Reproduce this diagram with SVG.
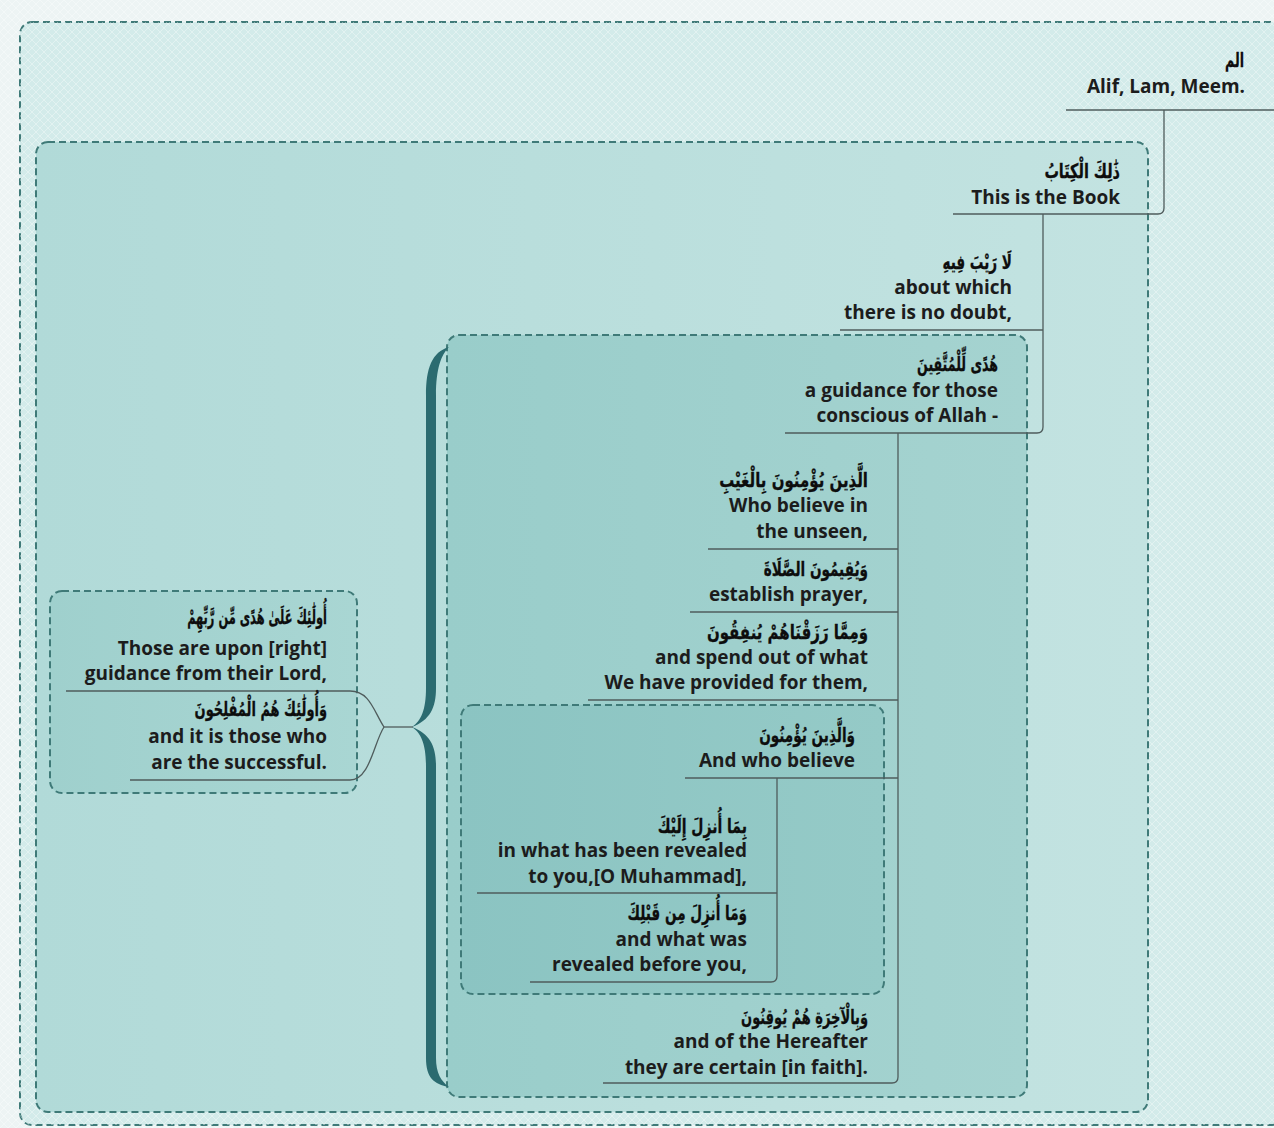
<svg xmlns="http://www.w3.org/2000/svg" width="1274" height="1128" viewBox="0 0 1274 1128">
<style>
.box{stroke:#3f7a78;stroke-width:2;stroke-dasharray:7 4}
.en{font-family:"Open Sans","DejaVu Sans",sans-serif;font-weight:700;font-size:19px;fill:#1c1c1c;text-anchor:end}
.ar{font-family:"DejaVu Sans","Noto Sans",sans-serif;font-weight:bold;font-size:20px;fill:#0d0d0d;stroke:#0d0d0d;stroke-width:0.3;text-anchor:end}
.ln{fill:none;stroke:#4f5c5c;stroke-width:1.3}
</style>
<defs>
<pattern id="hatch" width="8" height="8" patternUnits="userSpaceOnUse">
<path d="M0,0 L8,8 M8,0 L0,8" stroke="#ffffff" stroke-opacity="0.35" stroke-width="1"/>
</pattern>
<linearGradient id="g2" x1="0" y1="0" x2="1" y2="0">
<stop offset="0" stop-color="#b1dad8"/>
<stop offset="1" stop-color="#c3e3e1"/>
</linearGradient>
<linearGradient id="g3" x1="0" y1="0" x2="1" y2="0">
<stop offset="0" stop-color="#99cdca"/>
<stop offset="1" stop-color="#a5d3d0"/>
</linearGradient>
<linearGradient id="g4" x1="0" y1="0" x2="1" y2="0">
<stop offset="0" stop-color="#8bc4c2"/>
<stop offset="1" stop-color="#95cac7"/>
</linearGradient>
<linearGradient id="gl" x1="0" y1="0" x2="1" y2="0">
<stop offset="0" stop-color="#9fd0cd"/>
<stop offset="1" stop-color="#a9d6d3"/>
</linearGradient>
</defs>

<rect x="0" y="0" width="1274" height="1128" fill="#edf4f4"/>
<rect x="0" y="0" width="1274" height="1128" fill="url(#hatch)"/>

<g id="frames">
<rect id="outer" class="box" x="20" y="22" width="1264" height="1103" rx="12" fill="#d3ebea"/>
<rect x="20" y="22" width="1264" height="1103" rx="12" fill="url(#hatch)"/>
<rect id="box2" class="box" x="36" y="142" width="1112" height="970" rx="12" fill="url(#g2)"/>
<rect id="box3" class="box" x="447" y="335" width="580" height="762" rx="12" fill="url(#g3)"/>
<rect id="box4" class="box" x="461" y="705" width="423" height="289" rx="12" fill="url(#g4)"/>
<rect id="boxL" class="box" x="50" y="591" width="307" height="202" rx="12" fill="url(#gl)"/>
</g>

<g id="connectors">
<path class="ln" d="M1274,110 H1066"/>
<path class="ln" d="M1164,110 V208 Q1164,214 1158,214 H953"/>
<path class="ln" d="M1043,214 V427 Q1043,433 1037,433 H785"/>
<path class="ln" d="M1043,330 H840"/>
<path class="ln" d="M898,433 V1077 Q898,1083 892,1083 H603"/>
<path class="ln" d="M898,549 H708"/>
<path class="ln" d="M898,612 H690"/>
<path class="ln" d="M898,700 H588"/>
<path class="ln" d="M898,778 H685"/>
<path class="ln" d="M777,778 V976 Q777,982 771,982 H530"/>
<path class="ln" d="M777,893 H477"/>
<path class="ln" d="M413,727 H384"/>
<path class="ln" d="M384,727 C374,712 370,691 350,691 H66"/>
<path class="ln" d="M384,727 C374,742 370,780 350,780 H130"/>
<path id="brace" fill="#2b6b70" d="M449,347 C432,352 426,368 426,395 L426,688 C426,710 421,721 412,727 C421,733 426,744 426,766 L426,1058 C426,1078 434,1084 449,1087 C441,1081 436,1073 436,1058 L436,766 C436,746 430,734 412,727 C430,720 436,708 436,688 L436,395 C436,369 441,355 449,347 Z"/>
</g>

<g id="n1"><text class="ar" transform="translate(1244,67) scale(0.63,1)">الم</text><text class="en" x="1245" y="93">Alif, Lam, Meem.</text></g>
<g id="n2"><text class="ar" transform="translate(1120,178) scale(0.72,1)">ذَٰلِكَ الْكِتَابُ</text><text class="en" x="1120" y="204">This is the Book</text></g>
<g id="n3"><text class="ar" transform="translate(1012,269) scale(0.68,1)">لَا رَيْبَ فِيهِ</text><text class="en" x="1012" y="294">about which</text><text class="en" x="1012" y="319">there is no doubt,</text></g>
<g id="n4"><text class="ar" transform="translate(998,371) scale(0.63,1)">هُدًى لِّلْمُتَّقِينَ</text><text class="en" x="998" y="397">a guidance for those</text><text class="en" x="998" y="422">conscious of Allah -</text></g>
<g id="n5"><text class="ar" transform="translate(868,487) scale(0.75,1)">الَّذِينَ يُؤْمِنُونَ بِالْغَيْبِ</text><text class="en" x="868" y="512">Who believe in</text><text class="en" x="868" y="538">the unseen,</text></g>
<g id="n6"><text class="ar" transform="translate(868,576) scale(0.68,1)">وَيُقِيمُونَ الصَّلَاةَ</text><text class="en" x="868" y="601">establish prayer,</text></g>
<g id="n7"><text class="ar" transform="translate(868,639) scale(0.75,1)">وَمِمَّا رَزَقْنَاهُمْ يُنفِقُونَ</text><text class="en" x="868" y="664">and spend out of what</text><text class="en" x="868" y="689">We have provided for them,</text></g>
<g id="n8"><text class="ar" transform="translate(855,742) scale(0.68,1)">وَالَّذِينَ يُؤْمِنُونَ</text><text class="en" x="855" y="767">And who believe</text></g>
<g id="n9"><text class="ar" transform="translate(747,833) scale(0.7,1)">بِمَا أُنزِلَ إِلَيْكَ</text><text class="en" x="747" y="857">in what has been revealed</text><text class="en" x="747" y="883">to you,[O Muhammad],</text></g>
<g id="n10"><text class="ar" transform="translate(747,920) scale(0.68,1)">وَمَا أُنزِلَ مِن قَبْلِكَ</text><text class="en" x="747" y="946">and what was</text><text class="en" x="747" y="971">revealed before you,</text></g>
<g id="n11"><text class="ar" transform="translate(868,1024) scale(0.65,1)">وَبِالْآخِرَةِ هُمْ يُوقِنُونَ</text><text class="en" x="868" y="1048">and of the Hereafter</text><text class="en" x="868" y="1074">they are certain [in faith].</text></g>
<g id="n12"><text class="ar" transform="translate(327,624) scale(0.57,1)">أُولَٰئِكَ عَلَىٰ هُدًى مِّن رَّبِّهِمْ</text><text class="en" x="327" y="655">Those are upon [right]</text><text class="en" x="327" y="680">guidance from their Lord,</text></g>
<g id="n13"><text class="ar" transform="translate(327,716) scale(0.65,1)">وَأُولَٰئِكَ هُمُ الْمُفْلِحُونَ</text><text class="en" x="327" y="743">and it is those who</text><text class="en" x="327" y="769">are the successful.</text></g>
</svg>
